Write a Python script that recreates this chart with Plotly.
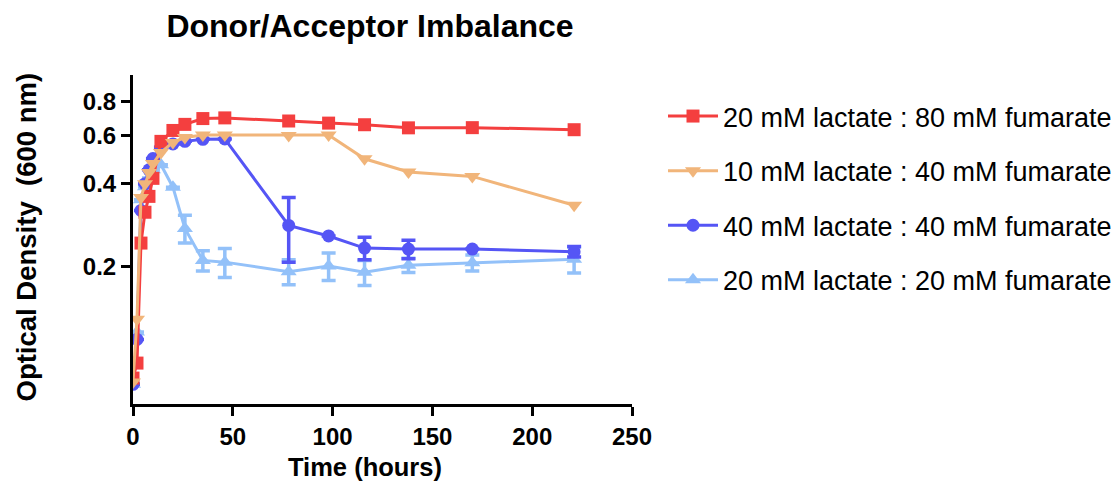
import plotly.graph_objects as go

# ---- data ----
time_h = [0, 2, 4, 6, 8, 10, 14, 20, 26, 35, 46, 78, 98, 116, 138, 170, 221]

od_20lac_80fum = [0.078, 0.0885, 0.243, 0.315, 0.360, 0.419, 0.572, 0.627, 0.660, 0.693, 0.697,
                  0.679, 0.667, 0.658, 0.641, 0.642, 0.631]
od_10lac_40fum = [0.0755, 0.128, 0.357, 0.400, 0.440, 0.475, 0.521, 0.567, 0.591, 0.604, 0.604,
                  0.601, 0.604, 0.494, 0.442, 0.426, 0.334]
od_40lac_40fum = [0.074, 0.108, 0.320, 0.400, 0.450, 0.495, 0.544, 0.560, 0.572, 0.582, 0.584,
                  0.282, 0.258, 0.233, 0.231, 0.231, 0.226]
od_20lac_20fum = [0.074, 0.115, 0.350, 0.390, 0.420, 0.450, 0.470, 0.389, 0.275, 0.210, 0.207,
                  0.191, 0.2005, 0.190, 0.2017, 0.206, 0.212]

err_40lac_40fum = [0, 0, 0, 0, 0, 0, 0, 0, 0, 0, 0, 0.075, 0, 0.022, 0.018, 0, 0.010]
err_20lac_20fum = [0, 0, 0, 0, 0, 0, 0, 0, 0.032, 0.018, 0.025, 0.020, 0.023, 0.020, 0.012, 0.014, 0.023]

labels = ["20 mM lactate : 80 mM fumarate",
          "10 mM lactate : 40 mM fumarate",
          "40 mM lactate : 40 mM fumarate",
          "20 mM lactate : 20 mM fumarate"]

y_ticks = [0.2, 0.4, 0.6, 0.8]
x_ticks = [0, 50, 100, 150, 200, 250]

# ---- styles ----
RED = "#F43F3F"
ORANGE = "#F1B57A"
BLUE = "#5555F5"
LBLUE = "#93C1F9"

fig = go.Figure()

def add(y, name, color, symbol, size, rank, err=None):
    kw = {}
    if err is not None:
        kw["error_y"] = dict(type="data", array=err, symmetric=True, color=color,
                             thickness=3.5, width=7, visible=True)
    fig.add_trace(go.Scatter(
        x=time_h, y=y, name=name, mode="lines+markers",
        line=dict(color=color, width=3),
        marker=dict(symbol=symbol, size=size, color=color),
        legendrank=rank, legendgroup=name, **kw))

add(od_20lac_20fum, labels[3], LBLUE, "triangle-up", 14, 4, err_20lac_20fum)
add(od_40lac_40fum, labels[2], BLUE, "circle", 13, 3, err_40lac_40fum)
add(od_20lac_80fum, labels[0], RED, "square", 13, 1)
add(od_10lac_40fum, labels[1], ORANGE, "triangle-down", 14, 2)

FONT = "Liberation Sans, Arial, sans-serif"

fig.update_layout(
    width=1119, height=485,
    margin=dict(l=133, r=487, t=75, b=81, autoexpand=False),
    paper_bgcolor="white", plot_bgcolor="white",
    font=dict(family=FONT, color="black"),
    title=dict(text="<b>Donor/Acceptor Imbalance</b>", x=370/1119, xanchor="center",
               y=1 - 26/485, yanchor="middle", font=dict(size=32, family=FONT)),
    showlegend=True,
    legend=dict(xref="container", yref="container", x=663/1119, y=1 - 92/485,
                xanchor="left", yanchor="top",
                font=dict(size=27, family=FONT), tracegroupgap=16.5,
                bgcolor="rgba(0,0,0,0)", itemwidth=50),
    xaxis=dict(range=[0, 250], tickvals=x_ticks, ticktext=[str(v) for v in x_ticks],
               showline=True, linecolor="black", linewidth=3, ticks="outside",
               ticklen=9, tickwidth=3, tickcolor="black", showgrid=False, zeroline=False,
               tickfont=dict(size=24, family=FONT, weight="bold")),
    yaxis=dict(type="log", range=[-1.2026, 0.0], tickvals=y_ticks,
               ticktext=[str(v) for v in y_ticks],
               showline=True, linecolor="black", linewidth=3, ticks="outside",
               ticklen=9, tickwidth=3, tickcolor="black", showgrid=False, zeroline=False,
               tickfont=dict(size=24, family=FONT, weight="bold")),
    annotations=[
        dict(text="<b>Time (hours)</b>", xref="paper", yref="paper",
             x=(365-133)/499, y=-(467-404)/329, xanchor="center", yanchor="middle",
             showarrow=False, font=dict(size=25.5, family=FONT)),
        dict(text="<b>Optical Density \u00a0(600 nm)</b>", xref="paper", yref="paper",
             x=-(133-26)/499, y=(404-237.5)/329, xanchor="center", yanchor="middle",
             textangle=-90, showarrow=False, font=dict(size=27.5, family=FONT)),
    ],
)

fig.write_html("out.html")
